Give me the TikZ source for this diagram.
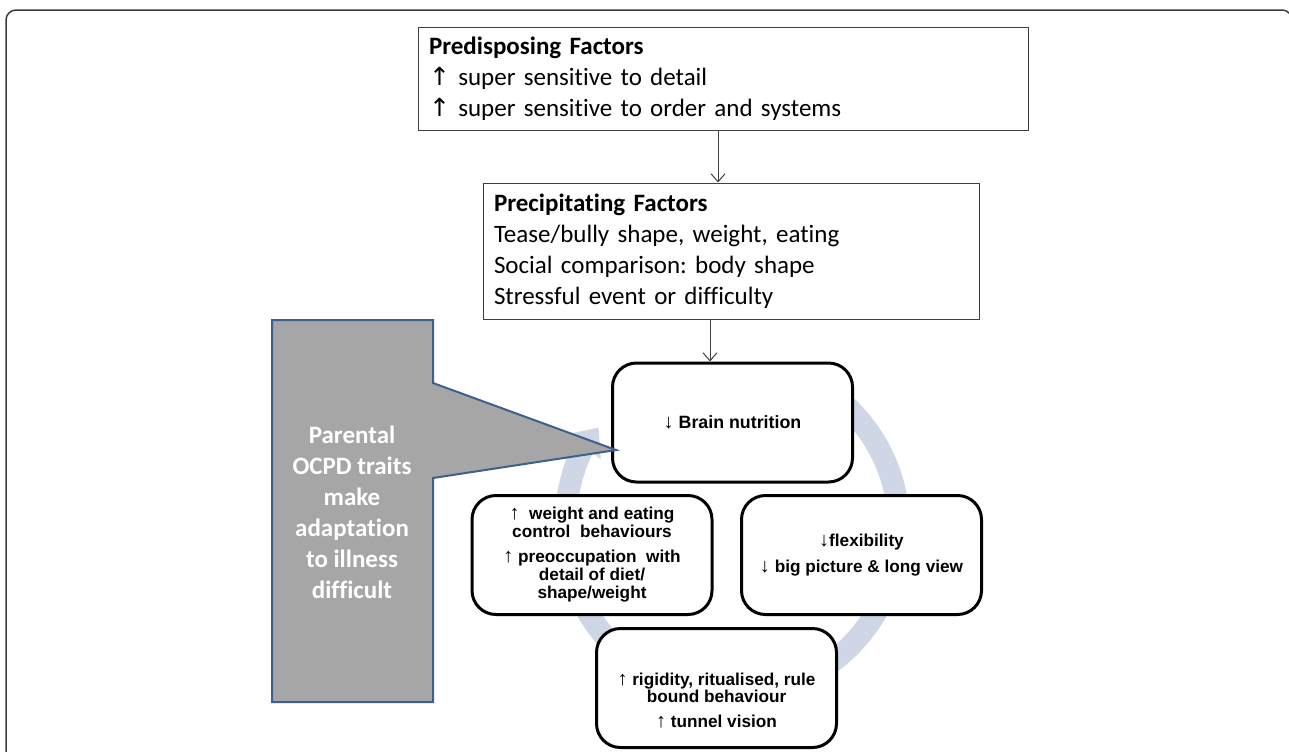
\documentclass[tikz,border=0pt]{standalone}
\usepackage{fontspec}
\setmainfont{Carlito}[Ligatures=NoCommon]
\newfontfamily\arialfont{Liberation Sans}
\newfontfamily\symfont{DejaVu Sans}
\usetikzlibrary{positioning,arrows,arrows.meta,calc}
\usepackage{xcolor}

\definecolor{ringblue}{RGB}{207,215,231}
\definecolor{calloutgray}{RGB}{166,166,166}
\definecolor{calloutblue}{RGB}{62,96,140}
\definecolor{factorgray}{RGB}{64,64,64}
\definecolor{framegray}{RGB}{60,60,60}

\newcommand{\bigup}{{\symfont\mdseries ↑}}
\newcommand{\uparr}{{\arialfont\mdseries\fontsize{10}{9}\selectfont ↑}}
\newcommand{\dnarr}{{\arialfont\mdseries\fontsize{10}{9}\selectfont ↓}}

\begin{document}
\frenchspacing
\begin{tikzpicture}[x=0.5pt,y=-0.5pt]

    \tikzstyle{factor}=[draw=factorgray, line width=0.5pt, rectangle, align=left, inner xsep=5.5pt, font=\fontsize{12.5}{15.5}\selectfont];
    \tikzstyle{cyc}=[draw, rectangle, rounded corners=12pt, line width=1.5pt, fill=white, minimum width=120pt, minimum height=59.5pt, align=center, font=\arialfont\bfseries\fontsize{8.6}{9}\selectfont];
    \tikzstyle{ring}=[draw=ringblue, line width=11pt, -{Triangle[length=12pt,width=20pt]}];
    \tikzstyle{callout}=[draw=calloutblue, fill=calloutgray, line width=1pt, line join=miter];

    \useasboundingbox (0,0) rectangle (1289,751);
    \clip (0,0) rectangle (1289,751);
    \draw [framegray, line width=0.75pt, rounded corners=5pt] (6,10) rectangle (1292,800);

    \begin{scope}[>={Straight Barb[length=4pt,width=7pt]}]
      \node (predisp) at (723,78.5) [factor, text width=294pt, minimum height=51.5pt]{\textbf{Predisposing Factors}\\ \bigup\ super sensitive to detail\\ \bigup\ super sensitive to order and systems};
      \node (precip) [factor, below=26pt of predisp, xshift=4pt, text width=237pt, minimum height=68pt]{\textbf{Precipitating Factors}\\ Tease/bully shape, weight, eating\\ Social comparison: body shape\\ Stressful event or difficulty};

      % cycle
      \coordinate (hub) at (732,528);
      \draw [ring] (hub) ++(300:167) arc[start angle=300, end angle=577, radius=167];

      \node (brain) [cyc, below=21pt of precip, xshift=0.75pt, font=\arialfont\bfseries\fontsize{8.9}{9}\selectfont]{\dnarr\ Brain nutrition};
      \node (control) at (592,555) [cyc]{\uparr\ \ weight and eating\\ control\ \ behaviours\\[3.5pt] \uparr\ preoccupation\ \ with\\ detail of diet/\\ shape/weight};
      \node (flex) at (861.5,555) [cyc]{\dnarr flexibility\\[4pt] \dnarr\ big picture \& long view};
      \node (rigid) at (716.5,688) [cyc]{};
      \node (rigidtext) at ([yshift=-6.5pt]rigid.center) [align=center, font=\arialfont\bfseries\fontsize{8.6}{8.5}\selectfont]{\uparr\ rigidity, ritualised, rule\\ bound behaviour\\[4pt] \uparr\ tunnel vision};

      % parental callout
      \draw [callout] (272,320) -- (433,320) -- (433,383) -- (616,450) -- (433,478) -- (433,702) -- (272,702) -- cycle;
      \node (parent) at (352,512) [text=white, align=center, font=\bfseries\fontsize{12.5}{15.5}\selectfont]{Parental\\ OCPD traits\\ make\\ adaptation\\ to illness\\ difficult};

      \draw [->, factorgray, line width=0.5pt] ([xshift=-2.5pt]predisp.south) -- ([xshift=-2.5pt]predisp.south |- precip.north);
      \draw [->, factorgray, line width=0.5pt] ([xshift=-10.5pt]precip.south) -- ([xshift=-10.5pt]precip.south |- brain.north);
    \end{scope}
\end{tikzpicture}
\end{document}
